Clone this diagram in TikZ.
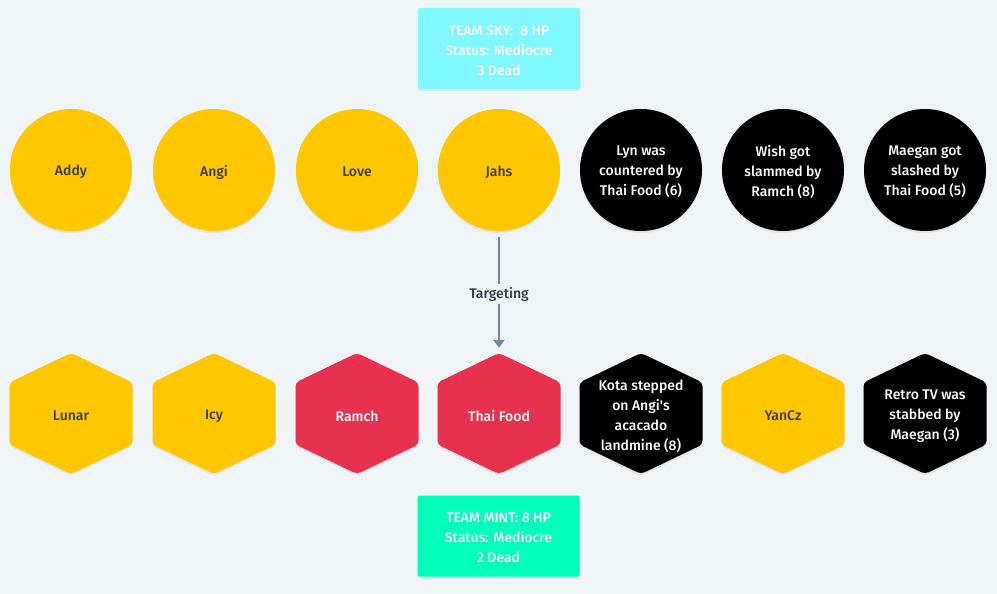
\documentclass[tikz,border=0pt]{standalone}
\usepackage{fontspec}
\setmainfont{Fira Sans}[UprightFont={* Medium}]
\usetikzlibrary{calc,shadows,arrows.meta}
\definecolor{bg}{HTML}{EFF4F7}
\definecolor{gold}{HTML}{FFC700}
\definecolor{redx}{HTML}{E8304F}
\definecolor{sky}{HTML}{80F8FF}
\definecolor{mint}{HTML}{00FFBA}
\definecolor{txtdark}{HTML}{333B44}
\definecolor{arrowgray}{HTML}{768895}
\tikzset{
  every node/.style={font=\fontsize{14}{20}\selectfont, align=center},
  shade/.style={drop shadow={opacity=0.12, shadow xshift=0pt, shadow yshift=-2pt}},
  darktxt/.style={label={[text=txtdark, yshift=-2pt]center:{#1}}},
  lighttxt/.style={label={[text=white, yshift=-2pt]center:{#1}}},
  person/.style={circle, minimum size=122pt, inner sep=0pt, shade},
  alive/.style={person, fill=gold, darktxt={#1}},
  dead/.style={person, fill=black, lighttxt={#1}},
  hexspot/.style={circle, minimum size=122pt, inner sep=0pt},
  teambox/.style={rectangle, rounded corners=2pt, minimum width=162pt, minimum height=81pt, text=white, shade, lighttxt={#1}},
}
\newcommand{\hexfill}[2]{%
  \fill[#2, rounded corners=4pt, shade] ($(#1)+(0,-61)$) -- ++(61.5,29.5) -- ++(0,62) -- ++(-61.5,29.5) -- ++(-61.5,-29.5) -- ++(0,-62) -- cycle;}
\begin{document}
\begin{tikzpicture}[x=1pt,y=-1pt]
\useasboundingbox[fill=bg] (0,0) rectangle (997,594);
% team boxes
\node[teambox={TEAM SKY:\ \ 8 HP\\Status: Mediocre\\3 Dead}, fill=sky] (sky) at (499,48.5) {};
\node[teambox={TEAM MINT: 8 HP\\Status: Mediocre\\2 Dead}, fill=mint] (mintbox) at (498.5,536) {};
% circles
\node[alive=Addy] (addy) at (71,170) {};
\node[alive=Angi] (angi) at (214,170) {};
\node[alive=Love] (love) at (357,170) {};
\node[alive=Jahs] (jahs) at (499,170) {};
\node[dead={Lyn was\\countered by\\Thai Food (6)}] (lyn) at (641,170) {};
\node[dead={Wish got\\slammed by\\Ramch (8)}] (wish) at (783,170) {};
\node[dead={Maegan got\\slashed by\\Thai Food (5)}] (maegan) at (925,170) {};
% hexagons
\coordinate (h1) at (71,414);
\coordinate (h2) at (214,414);
\coordinate (h3) at (357,414);
\coordinate (h4) at (499,414);
\coordinate (h5) at (641,414);
\coordinate (h6) at (783,414);
\coordinate (h7) at (925,414);
\hexfill{h1}{gold}
\hexfill{h2}{gold}
\hexfill{h3}{redx}
\hexfill{h4}{redx}
\hexfill{h5}{black}
\hexfill{h6}{gold}
\hexfill{h7}{black}
\node[hexspot, darktxt=Lunar] (lunar) at (h1) {};
\node[hexspot, darktxt=Icy] (icy) at (h2) {};
\node[hexspot, lighttxt=Ramch] (ramch) at (h3) {};
\node[hexspot, lighttxt={Thai Food}] (thai) at (h4) {};
\node[hexspot, lighttxt={Kota stepped\\on Angi\textquotesingle s\\acacado\\landmine (8)}] (kota) at (h5) {};
\node[hexspot, darktxt=YanCz] (yancz) at (h6) {};
\node[hexspot, lighttxt={Retro TV was\\stabbed by\\Maegan (3)}] (retro) at (h7) {};
% arrow
\draw[arrowgray, line width=2.2pt, shorten <=6pt, shorten >=5pt, -{Triangle[length=8pt,width=11pt]}]
  (jahs.south) -- node[fill=bg, text=txtdark, inner sep=3pt, yshift=-2pt] (tlabel) {Targeting} (thai.north);
\end{tikzpicture}
\end{document}
